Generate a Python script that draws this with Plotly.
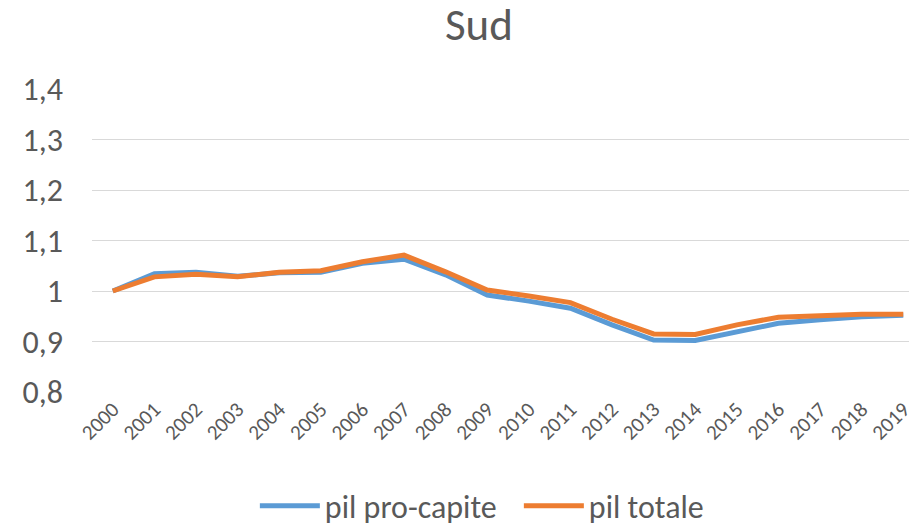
import plotly.graph_objects as go

years = [str(y) for y in range(2000, 2020)]
pil_pro_capite = [1.000, 1.034, 1.037, 1.029, 1.036, 1.037, 1.055, 1.063, 1.032, 0.992,
                  0.980, 0.966, 0.933, 0.903, 0.902, 0.920, 0.936, 0.943, 0.949, 0.952]
pil_totale = [1.000, 1.028, 1.033, 1.028, 1.037, 1.040, 1.058, 1.071, 1.038, 1.002,
              0.990, 0.977, 0.944, 0.915, 0.914, 0.933, 0.948, 0.952, 0.954, 0.954]
y_ticks = [0.8, 0.9, 1.0, 1.1, 1.2, 1.3, 1.4]

FONT = "Carlito, Lato, 'Open Sans', sans-serif"
GREY = "#595959"

fig = go.Figure()
fig.add_trace(go.Scatter(x=years, y=pil_pro_capite, mode="lines", name="pil pro-capite",
                         line=dict(color="#5B9BD5", width=5)))
fig.add_trace(go.Scatter(x=years, y=pil_totale, mode="lines", name="pil totale",
                         line=dict(color="#ED7D31", width=5)))

fig.update_layout(
    width=909, height=517,
    margin=dict(l=84, r=0, t=81, b=133, autoexpand=False),
    paper_bgcolor="white", plot_bgcolor="white",
    separators=",.",
    title=dict(text="Sud", x=0.518, xanchor="center", y=1 - 16 / 517, yanchor="middle",
               font=dict(family=FONT, size=45, color=GREY)),
    font=dict(family=FONT, color=GREY),
    showlegend=True,
    legend=dict(orientation="h", x=0.562, xref="container", xanchor="center",
                y=19 / 517, yref="container", yanchor="middle",
                font=dict(family=FONT, size=32, color=GREY), itemwidth=60,
                entrywidth=189, entrywidthmode="pixels",
                traceorder="normal"),
    xaxis=dict(type="category", range=[-0.5, 19.33], tickangle=-45, automargin=False,
               tickfont=dict(family=FONT, size=21, color=GREY),
               showgrid=False, showline=False, ticks=""),
    yaxis=dict(range=[0.8, 1.4], tickvals=y_ticks, showgrid=True, gridcolor="#D9D9D9",
               gridwidth=1, zeroline=False, showline=False, automargin=False,
               tickfont=dict(family=FONT, size=32, color=GREY), ticks="",
               ticklabelstandoff=28),
)
fig.write_html("out.html")
